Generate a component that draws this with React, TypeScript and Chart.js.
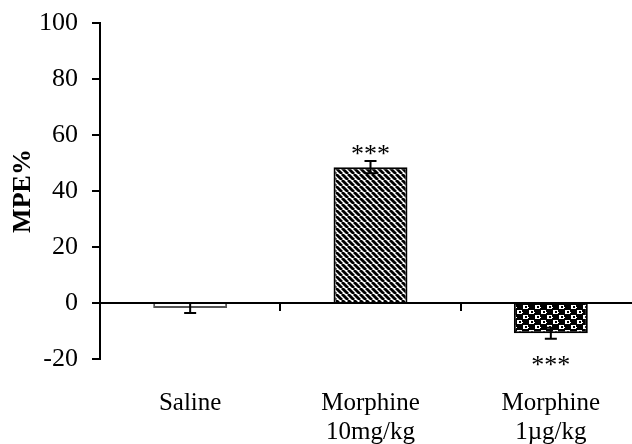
import React, { useEffect, useRef } from "react";
import { Chart, registerables } from "chart.js";

Chart.register(...registerables);

const categories: string[][] = [["Saline"], ["Morphine", "10mg/kg"], ["Morphine", "1\u00b5g/kg"]];
const meanValues: number[] = [-1.8, 48.5, -10.8];
const errorValues: number[] = [1.8, 2.2, 2.0];
const starLabels: string[] = ["", "***", "***"];
const yTicks: number[] = [-20, 0, 20, 40, 60, 80, 100];

const FONT = "'Liberation Serif', 'Times New Roman', serif";

function stripePattern(): CanvasPattern | string {
  const c = document.createElement("canvas");
  const s = 6;
  c.width = s;
  c.height = s;
  const g = c.getContext("2d");
  if (!g) return "#000";
  g.fillStyle = "#fff";
  g.fillRect(0, 0, s, s);
  g.strokeStyle = "#000";
  g.lineWidth = 2.8;
  for (const o of [-s, 0, s]) {
    g.beginPath();
    g.moveTo(o, 0);
    g.lineTo(o + s, s);
    g.stroke();
  }
  return g.createPattern(c, "repeat") || "#000";
}

function checkerPattern(): CanvasPattern | string {
  const c = document.createElement("canvas");
  const w = 12;
  const h = 10;
  c.width = w;
  c.height = h;
  const g = c.getContext("2d");
  if (!g) return "#000";
  g.fillStyle = "#000";
  g.fillRect(0, 0, w, h);
  g.fillStyle = "#fff";
  g.fillRect(1, 0, 5, 4);
  g.fillRect(7, 5, 5, 4);
  g.fillRect(0, 7, 1, 1);
  g.fillRect(6, 2, 1, 1);
  g.fillStyle = "#000";
  g.fillRect(3, 1, 2, 2);
  g.fillRect(9, 6, 2, 2);
  return g.createPattern(c, "repeat") || "#000";
}

const errorBarPlugin = {
  id: "errorBars",
  afterDatasetsDraw(chart: any) {
    const ctx = chart.ctx;
    const meta = chart.getDatasetMeta(0);
    const ys = chart.scales.y;
    ctx.save();
    ctx.strokeStyle = "#000";
    ctx.lineWidth = 2;
    meta.data.forEach((bar: any, i: number) => {
      const x = bar.x;
      const top = ys.getPixelForValue(meanValues[i] + errorValues[i]);
      const bot = ys.getPixelForValue(meanValues[i] - errorValues[i]);
      ctx.beginPath();
      ctx.moveTo(x, top);
      ctx.lineTo(x, bot);
      ctx.moveTo(x - 6, top);
      ctx.lineTo(x + 6, top);
      ctx.moveTo(x - 6, bot);
      ctx.lineTo(x + 6, bot);
      ctx.stroke();
      const label = starLabels[i];
      if (label) {
        ctx.fillStyle = "#000";
        ctx.font = `26px ${FONT}`;
        ctx.textAlign = "center";
        ctx.textBaseline = "alphabetic";
        if (meanValues[i] >= 0) {
          ctx.fillText(label, x, top + 1);
        } else {
          ctx.fillText(label, x, bot + 34);
        }
      }
    });
    ctx.restore();
  },
};

export default function App() {
  const ref = useRef<HTMLCanvasElement | null>(null);
  useEffect(() => {
    if (!ref.current) return;
    Chart.defaults.font.family = FONT;
    Chart.defaults.color = "#000";
    const chart = new Chart(ref.current, {
      type: "bar",
      data: {
        labels: categories as any,
        datasets: [
          {
            data: meanValues,
            backgroundColor: ["#ffffff", stripePattern(), checkerPattern()] as any,
            borderColor: ["#555555", "#000000", "#000000"],
            borderWidth: 2,
            barPercentage: 0.41,
            categoryPercentage: 1,
          },
        ],
      },
      options: {
        animation: false,
        responsive: false,
        maintainAspectRatio: false,
        layout: { padding: { left: 0, right: 19, top: 23, bottom: 0 } },
        plugins: { legend: { display: false }, tooltip: { enabled: false } },
        scales: {
          x: {
            type: "category",
            position: "bottom",
            offset: true,
            grid: { display: false },
            border: { display: false },
            ticks: { padding: 22, font: { size: 25, lineHeight: 1.15 }, color: "#000", maxRotation: 0 },
            afterFit: (s: any) => {
              s.height = 85;
              s.paddingLeft = 0;
              s.paddingRight = 0;
            },
          },
          x2: {
            type: "category",
            position: { y: 0 } as any,
            offset: true,
            grid: {
              display: true,
              drawOnChartArea: false,
              drawTicks: true,
              tickLength: 7,
              color: "#000",
              lineWidth: 2,
              offset: true,
            },
            border: { display: true, color: "#000", width: 2 },
            ticks: { display: false },
            afterFit: (s: any) => {
              s.paddingLeft = 0;
              s.paddingRight = 0;
            },
          },
          y: {
            min: -20,
            max: 100,
            afterBuildTicks: (s: any) => {
              s.ticks = yTicks.map((v) => ({ value: v }));
            },
            grid: {
              display: true,
              drawOnChartArea: false,
              drawTicks: true,
              tickLength: 8,
              color: "#000",
              lineWidth: 2,
            },
            border: { display: true, color: "#000", width: 2 },
            ticks: { padding: 14, font: { size: 26 }, color: "#000" },
            title: {
              display: true,
              text: "MPE%",
              font: { size: 26, weight: "bold" },
              color: "#000",
              padding: { top: 8, bottom: 0 },
            },
            afterFit: (s: any) => {
              s.width = 100;
              s.paddingTop = 0;
              s.paddingBottom = 0;
            },
          },
        },
      },
      plugins: [errorBarPlugin],
    });
    return () => chart.destroy();
  }, []);
  return (
    <div style={{ position: "absolute", left: 0, top: 0, width: 632, height: 444, overflow: "hidden", background: "#fff" }}>
      <canvas ref={ref} width={660} height={444} style={{ display: "block" }} />
    </div>
  );
}
